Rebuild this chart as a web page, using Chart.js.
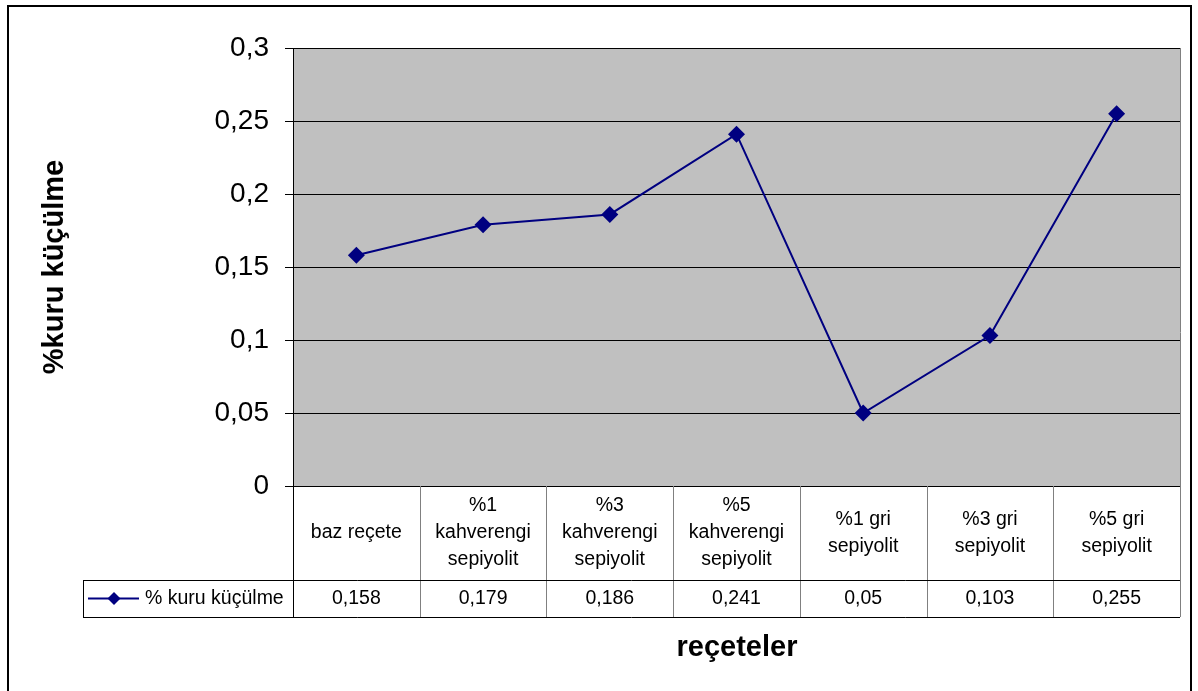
<!DOCTYPE html>
<html>
<head>
<meta charset="utf-8">
<script src="https://cdn.jsdelivr.net/npm/chart.js@4/dist/chart.umd.min.js"></script>
<style>
  html, body { margin: 0; padding: 0; background: #fff; }
  canvas { display: block; }
</style>
</head>
<body>
<canvas id="chart" width="1198" height="691"></canvas>
<script>
// recipes (multi-line labels for the table header row)
const categories = [
    ['baz reçete'],
    ['%1', 'kahverengi', 'sepiyolit'],
    ['%3', 'kahverengi', 'sepiyolit'],
    ['%5', 'kahverengi', 'sepiyolit'],
    ['%1 gri', 'sepiyolit'],
    ['%3 gri', 'sepiyolit'],
    ['%5 gri', 'sepiyolit']
];
const shrinkage = [0.158, 0.179, 0.186, 0.241, 0.05, 0.103, 0.255];
const seriesName = '% kuru küçülme';
const yTitle = '%kuru küçülme';
const xTitle = 'reçeteler';

const navy = '#000080';
const FONT = 'Arial, "Liberation Sans", sans-serif';

function comma(v) {
    return String(Number(v.toFixed(3))).replace('.', ',');
}

// plot background, data table under the plot, axis titles, outer frame
const tablePlugin = {
    id: 'tablePlugin',
    beforeDraw(chart) {
        const ctx = chart.ctx;
        const a = chart.chartArea;
        ctx.save();
        ctx.fillStyle = '#fff';
        ctx.fillRect(0, 0, chart.width, chart.height);
        ctx.fillStyle = '#C0C0C0';
        ctx.fillRect(a.left, a.top, a.right - a.left, a.bottom - a.top);
        ctx.restore();
    },
    afterDraw(chart) {
        const ctx = chart.ctx;
        const a = chart.chartArea;
        const x = chart.scales.x;
        const n = categories.length;
        const colW = (a.right - a.left) / n;
        const headBottom = 580;
        const rowBottom = 617;
        const legendLeft = 83;

        ctx.save();
        // right edge of the plot
        ctx.strokeStyle = '#808080';
        ctx.lineWidth = 1;
        ctx.beginPath();
        ctx.moveTo(a.right + 0.5, a.top);
        ctx.lineTo(a.right + 0.5, rowBottom);
        ctx.stroke();

        // column separators
        ctx.beginPath();
        for (let i = 1; i < n; i++) {
            const cx = Math.round(a.left + i * colW) + 0.5;
            ctx.moveTo(cx, a.bottom);
            ctx.lineTo(cx, rowBottom);
        }
        ctx.stroke();

        // horizontal rules and left edges
        ctx.strokeStyle = '#000';
        ctx.beginPath();
        ctx.moveTo(legendLeft, headBottom + 0.5);
        ctx.lineTo(a.right, headBottom + 0.5);
        ctx.moveTo(legendLeft, rowBottom + 0.5);
        ctx.lineTo(a.right, rowBottom + 0.5);
        ctx.moveTo(legendLeft + 0.5, headBottom);
        ctx.lineTo(legendLeft + 0.5, rowBottom);
        ctx.moveTo(a.left + 0.5, a.bottom);
        ctx.lineTo(a.left + 0.5, rowBottom);
        ctx.stroke();

        // header labels and values
        ctx.fillStyle = '#000';
        ctx.font = '19.5px ' + FONT;
        ctx.textAlign = 'center';
        ctx.textBaseline = 'middle';
        const headMid = (a.bottom + headBottom) / 2;
        const lineH = 27;
        categories.forEach((lines, i) => {
            const cx = x.getPixelForValue(i);
            const y0 = headMid - (lines.length - 1) * lineH / 2;
            lines.forEach((t, j) => ctx.fillText(t, cx, y0 + j * lineH));
            ctx.fillText(comma(shrinkage[i]), cx, (headBottom + rowBottom) / 2);
        });

        // legend key in the first cell of the value row
        const ly = (headBottom + rowBottom) / 2;
        ctx.strokeStyle = navy;
        ctx.lineWidth = 2;
        ctx.beginPath();
        ctx.moveTo(88, ly);
        ctx.lineTo(139, ly);
        ctx.stroke();
        ctx.fillStyle = navy;
        ctx.beginPath();
        ctx.moveTo(114, ly - 6.5);
        ctx.lineTo(120.5, ly);
        ctx.lineTo(114, ly + 6.5);
        ctx.lineTo(107.5, ly);
        ctx.closePath();
        ctx.fill();
        ctx.fillStyle = '#000';
        ctx.textAlign = 'left';
        ctx.fillText(seriesName, 145, ly);

        // axis titles
        ctx.font = 'bold 29px ' + FONT;
        ctx.textAlign = 'center';
        ctx.fillText(xTitle, 737, 648);
        ctx.translate(55, 267);
        ctx.rotate(-Math.PI / 2);
        ctx.fillText(yTitle, 0, 0);
        ctx.setTransform(1, 0, 0, 1, 0, 0);

        // outer frame
        ctx.strokeStyle = '#000';
        ctx.lineWidth = 2;
        ctx.strokeRect(8, 6, 1183, 700);
        ctx.restore();
    }
};

new Chart(document.getElementById('chart'), {
    type: 'line',
    data: {
        labels: categories.map(c => c.join(' ')),
        datasets: [{
            label: seriesName,
            data: shrinkage,
            borderColor: navy,
            backgroundColor: navy,
            borderWidth: 2,
            pointStyle: 'rectRot',
            pointRadius: 8.5,
            pointHoverRadius: 8.5,
            pointBorderWidth: 0,
            tension: 0
        }]
    },
    options: {
        responsive: false,
        animation: false,
        devicePixelRatio: 1,
        layout: { padding: { left: 0, top: 48, right: 18, bottom: 205 } },
        plugins: {
            legend: { display: false },
            tooltip: { enabled: false }
        },
        scales: {
            x: {
                type: 'category',
                offset: true,
                display: false
            },
            y: {
                min: 0,
                max: 0.3,
                afterFit(s) { s.width = 293; },
                ticks: {
                    stepSize: 0.05,
                    padding: 16,
                    color: '#000',
                    font: { family: FONT, size: 28 },
                    callback: v => comma(v)
                },
                grid: {
                    color: '#000',
                    tickColor: '#000',
                    tickLength: 8,
                    lineWidth: 1
                },
                border: { color: '#000', width: 1 }
            }
        }
    },
    plugins: [tablePlugin]
});
</script>
</body>
</html>
